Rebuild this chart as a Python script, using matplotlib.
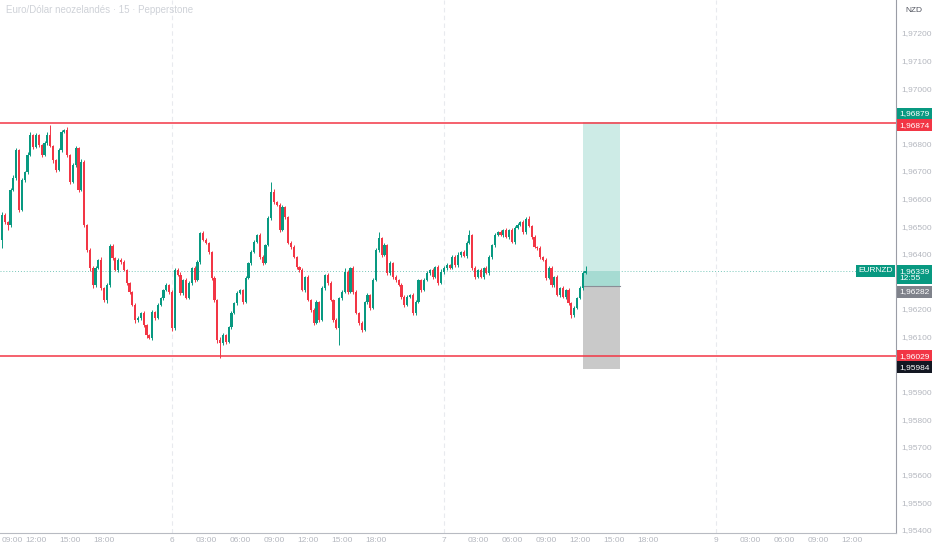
import numpy as np
import matplotlib
matplotlib.use("Agg")
import matplotlib.pyplot as plt
from matplotlib.patches import Rectangle

plt.rcParams["font.family"] = ["Liberation Sans", "DejaVu Sans"]

# EURNZD 15m candles (prices)
first_open = 1.96450
closes = [
    1.96541, 1.96515, 1.96504, 1.96631, 1.96675, 1.96776, 1.96559, 1.96667, 1.96696, 1.96758,
    1.96830, 1.96787, 1.96830, 1.96794, 1.96758, 1.96801, 1.96830, 1.96791, 1.96740, 1.96704,
    1.96776, 1.96841, 1.96849, 1.96758, 1.96660, 1.96722, 1.96783, 1.96631, 1.96733, 1.96504,
    1.96414, 1.96349, 1.96287, 1.96349, 1.96378, 1.96276, 1.96233, 1.96287, 1.96428, 1.96385,
    1.96341, 1.96378, 1.96370, 1.96341, 1.96294, 1.96262, 1.96215, 1.96160, 1.96167, 1.96186,
    1.96142, 1.96106, 1.96095, 1.96189, 1.96167, 1.96215, 1.96240, 1.96269, 1.96287, 1.96262,
    1.96131, 1.96341, 1.96323, 1.96258, 1.96305, 1.96240, 1.96294, 1.96349, 1.96305, 1.96370,
    1.96475, 1.96450, 1.96439, 1.96407, 1.96312, 1.96233, 1.96088, 1.96077, 1.96106, 1.96081,
    1.96135, 1.96186, 1.96222, 1.96258, 1.96269, 1.96225, 1.96312, 1.96367, 1.96407, 1.96443,
    1.96468, 1.96388, 1.96367, 1.96432, 1.96530, 1.96624, 1.96588, 1.96577, 1.96486, 1.96570,
    1.96533, 1.96439, 1.96425, 1.96388, 1.96352, 1.96341, 1.96269, 1.96316, 1.96233, 1.96196,
    1.96149, 1.96225, 1.96160, 1.96276, 1.96323, 1.96294, 1.96233, 1.96160, 1.96131, 1.96240,
    1.96262, 1.96334, 1.96262, 1.96349, 1.96262, 1.96186, 1.96149, 1.96124, 1.96225, 1.96251,
    1.96204, 1.96305, 1.96414, 1.96457, 1.96396, 1.96432, 1.96330, 1.96367, 1.96316, 1.96305,
    1.96287, 1.96244, 1.96215, 1.96244, 1.96251, 1.96186, 1.96225, 1.96305, 1.96269, 1.96305,
    1.96330, 1.96341, 1.96316, 1.96352, 1.96294, 1.96334, 1.96349, 1.96359, 1.96349, 1.96388,
    1.96359, 1.96396, 1.96407, 1.96392, 1.96439, 1.96468, 1.96349, 1.96316, 1.96341, 1.96316,
    1.96349, 1.96330, 1.96388, 1.96432, 1.96468, 1.96479, 1.96468, 1.96486, 1.96461, 1.96486,
    1.96443, 1.96494, 1.96504, 1.96515, 1.96479, 1.96526, 1.96501, 1.96461, 1.96425, 1.96421,
    1.96388, 1.96378, 1.96312, 1.96349, 1.96287, 1.96316, 1.96251, 1.96276, 1.96244, 1.96269,
    1.96222, 1.96178, 1.96204, 1.96240, 1.96276, 1.96330, 1.96339,
]
# wick lengths beyond the body, in points (0.00001)
wick_up = [
    10, 6, 4, 8, 10, 6, 5, 8, 4, 10, 12, 4, 8, 5, 4, 7, 12, 36, 4, 3,
    6, 8, 4, 10, 5, 6, 8, 4, 12, 6, 4, 8, 5, 6, 4, 10, 4, 6, 8, 6,
    4, 8, 5, 6, 3, 4, 5, 8, 6, 4, 5, 3, 4, 8, 5, 6, 4, 5, 8, 4,
    6, 6, 8, 10, 5, 6, 8, 4, 6, 8, 4, 6, 8, 5, 4, 6, 4, 10, 6, 4,
    5, 6, 4, 8, 5, 4, 6, 5, 8, 6, 4, 8, 6, 5, 8, 36, 10, 4, 6, 8,
    5, 4, 8, 6, 5, 4, 8, 5, 6, 4, 8, 6, 5, 8, 4, 6, 8, 4, 6, 5,
    8, 14, 6, 4, 5, 8, 4, 6, 5, 8, 4, 6, 8, 22, 5, 8, 4, 6, 5, 8,
    4, 6, 5, 8, 4, 6, 8, 5, 4, 6, 8, 5, 6, 4, 8, 10, 5, 6, 4, 8,
    6, 10, 4, 8, 6, 18, 4, 6, 5, 8, 4, 6, 8, 5, 6, 4, 8, 5, 6, 4,
    8, 5, 6, 4, 6, 8, 11, 4, 6, 5, 8, 4, 6, 5, 8, 4, 6, 5, 8, 4,
    6, 5, 8, 4, 6, 8, 18,
]
wick_dn = [
    30, 8, 18, 6, 4, 8, 6, 4, 8, 6, 4, 6, 5, 8, 6, 4, 8, 5, 10, 6,
    4, 6, 5, 8, 6, 4, 8, 6, 5, 8, 6, 10, 12, 8, 4, 6, 8, 10, 6, 8,
    5, 6, 8, 4, 6, 8, 5, 10, 6, 8, 6, 10, 4, 6, 8, 5, 4, 6, 5, 8,
    10, 6, 5, 8, 6, 5, 4, 6, 8, 5, 6, 4, 5, 8, 6, 8, 10, 54, 8, 6,
    5, 6, 4, 8, 5, 6, 4, 5, 6, 4, 5, 8, 6, 4, 5, 6, 8, 4, 6, 5,
    8, 4, 6, 5, 8, 6, 4, 8, 5, 6, 8, 5, 6, 4, 6, 8, 5, 6, 4, 62,
    6, 4, 8, 5, 6, 4, 8, 6, 5, 8, 6, 4, 5, 6, 8, 4, 6, 5, 8, 6,
    5, 8, 6, 4, 5, 8, 6, 4, 6, 5, 4, 6, 8, 5, 6, 4, 8, 6, 5, 4,
    6, 5, 8, 4, 6, 5, 8, 6, 4, 5, 6, 4, 5, 8, 6, 4, 5, 6, 4, 8,
    5, 6, 4, 5, 8, 6, 4, 6, 5, 8, 6, 4, 8, 5, 6, 8, 5, 6, 4, 8,
    6, 10, 6, 5, 4, 6, 4,
]

start_hour = -15.0          # first candle: day 5, 09:00 (hours from day 6 00:00)
bar_hours = 0.25            # 15 minute candles

take_profit = 1.96879
entry = 1.96282
stop_loss = 1.95984
last_price = 1.96339
level_top = 1.96874
level_bottom = 1.96029

price_ticks = [1.954, 1.955, 1.956, 1.957, 1.958, 1.959, 1.961, 1.962,
               1.964, 1.965, 1.966, 1.967, 1.968, 1.970, 1.971, 1.972]
time_ticks = [-15, -12, -9, -6, 0, 3, 6, 9, 12, 15, 18, 24, 27, 30, 33, 36,
              39, 42, 48, 51, 54, 57, 60]
time_labels = ["09:00", "12:00", "15:00", "18:00", "6", "03:00", "06:00", "09:00",
               "12:00", "15:00", "18:00", "7", "03:00", "06:00", "09:00", "12:00",
               "15:00", "18:00", "9", "03:00", "06:00", "09:00", "12:00"]
day_lines = [0, 24, 48]

GREEN = "#089981"
RED = "#F23645"
AXIS_TXT = "#b4b7bf"

closes = np.array(closes)
opens = np.concatenate([[first_open], closes[:-1]])
highs = np.maximum(opens, closes) + np.array(wick_up) * 1e-5
lows = np.minimum(opens, closes) - np.array(wick_dn) * 1e-5
times = start_hour + np.arange(len(closes)) * bar_hours
up = closes >= opens
colors = np.where(up, GREEN, RED)

fig = plt.figure(figsize=(9.32, 5.5), dpi=100)
ax = fig.add_axes([0, 17 / 550, 896 / 932, 533 / 550])

# day separators + current price line
for d in day_lines:
    ax.axvline(d, color="#e8eaee", lw=0.8, ls=(0, (4, 3)), zorder=0)
ax.axhline(last_price, color=GREEN, lw=0.7, ls=(0, (1, 2)), alpha=0.55, zorder=1)

# candles
ax.vlines(times, lows, highs, colors=colors, lw=0.7, zorder=2)
body = np.abs(closes - opens)
body = np.maximum(body, 0.000012)
ax.bar(times, body, bottom=np.minimum(opens, closes), width=0.19,
       color=colors, linewidth=0, zorder=3)

# horizontal levels
ax.axhline(level_top, color=RED, lw=1.1, zorder=4)
ax.axhline(level_bottom, color=RED, lw=1.1, zorder=4)

# long position tool
box_x = times[-1] - 0.2
box_w = 3.2
ax.add_patch(Rectangle((box_x, entry), box_w, take_profit - entry,
                       facecolor="#cdebe6", edgecolor="none", zorder=1))
ax.add_patch(Rectangle((box_x, entry), box_w, last_price - entry,
                       facecolor="#a6dbd2", edgecolor="none", zorder=1))
ax.add_patch(Rectangle((box_x, stop_loss), box_w, entry - stop_loss,
                       facecolor="#c9c9c9", edgecolor="none", zorder=1))
ax.plot([box_x, box_x + box_w], [entry, entry], color="#8a8d96", lw=0.8, zorder=1)

ax.set_xlim(-15.18, 63.9)
ax.set_ylim(1.953884, 1.973196)

# axes styling
for s in ["top", "left"]:
    ax.spines[s].set_visible(False)
ax.spines["right"].set_color("#9a9da6")
ax.spines["bottom"].set_color("#b8bbc2")
ax.spines["right"].set_linewidth(0.8)
ax.spines["bottom"].set_linewidth(0.8)

ax.yaxis.tick_right()
ax.set_yticks(price_ticks)
ax.set_yticklabels([f"{p:.5f}".replace(".", ",") for p in price_ticks])
ax.set_xticks(time_ticks)
ax.set_xticklabels(time_labels)
ax.tick_params(axis="both", length=0, labelsize=6, colors=AXIS_TXT)
ax.tick_params(axis="y", pad=4)
ax.tick_params(axis="x", pad=3)
# first time label sits at the left edge
ax.get_xticklabels()[0].set_ha("left")
ax.get_xticklabels()[0].set_x(-15.18)


def price_tag(price, text, bg, dy=0, fg="white"):
    ax.annotate(text, xy=(1, price), xycoords=("axes fraction", "data"),
                xytext=(2.2, dy), textcoords="offset points", ha="left", va="center",
                fontsize=6, color=fg, annotation_clip=False, linespacing=1.05,
                bbox=dict(boxstyle="square,pad=0.3", fc=bg, ec="none"), zorder=10)


price_tag(take_profit, "1,96879", GREEN, dy=5.5)
price_tag(level_top, "1,96874", RED, dy=-1.5)
price_tag(last_price, "1,96339\n12:55", GREEN, dy=-3)
price_tag(entry, "1,96282", "#7f828b", dy=-3.8)
price_tag(level_bottom, "1,96029", RED, dy=0)
price_tag(stop_loss, "1,95984", "#131722", dy=1)

ax.annotate("EURNZD", xy=(1, last_price), xycoords=("axes fraction", "data"),
            xytext=(-2.5, 0), textcoords="offset points", ha="right", va="center",
            fontsize=6, color="white",
            bbox=dict(boxstyle="square,pad=0.3", fc=GREEN, ec="none"), zorder=10)

fig.text(0.006, 0.982, "Euro/Dólar neozelandés · 15 · Pepperstone",
         fontsize=7, color="#cfd2d8", ha="left", va="center")
fig.text(0.971, 0.980, "NZD", fontsize=6, color="#50535e", ha="left", va="center")

fig.savefig("out.png", dpi=100)
